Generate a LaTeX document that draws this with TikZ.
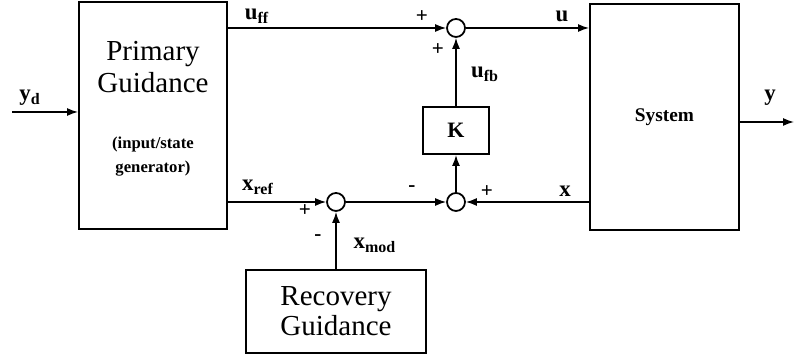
\documentclass[tikz,border=0pt]{standalone}
\usepackage{fontspec}
\setmainfont{Liberation Serif}
\usetikzlibrary{arrows.meta}

\newcommand{\smallbf}{\fontsize{9.5}{13}\selectfont\bfseries}

\begin{document}
\begin{tikzpicture}[
  block/.style={draw, line width=1.1pt, inner sep=0pt, align=center},
  sumjn/.style={draw, circle, line width=1pt, minimum size=0.36cm, inner sep=0pt},
  sig/.style={line width=0.8pt, -{Latex[length=2.2mm,width=1.6mm]}},
  lbl/.style={font=\fontsize{13}{15}\selectfont\bfseries},
  sgn/.style={font=\fontsize{12}{14}\selectfont\bfseries}
]
\useasboundingbox (0,0) rectangle (15.9,7.2);

% Blocks
\node[block, minimum width=2.96cm, minimum height=4.54cm,
  font=\fontsize{16.5}{18}\selectfont] (pg) at (3.06,4.89)
  {Primary\\Guidance\\[0.5cm]
   \smallbf (input/state\\[-0.15cm]\smallbf generator)\\[-0.3cm]};
\node[block, minimum width=2.98cm, minimum height=4.52cm,
  font=\fontsize{11}{13}\selectfont\bfseries] (sys) at (13.29,4.86) {System};
\node[block, minimum width=1.32cm, minimum height=0.94cm,
  font=\fontsize{12.5}{14}\selectfont\bfseries] (k) at (9.12,4.59) {K};
\node[block, minimum width=3.6cm, minimum height=1.66cm,
  font=\fontsize{16.5}{17}\selectfont] (rg) at (6.72,0.97) {Recovery\\Guidance};

% Summing junctions
\node[sumjn] (s1) at (9.12,6.64) {};
\node[sumjn] (s2) at (6.72,3.16) {};
\node[sumjn] (s3) at (9.12,3.16) {};

% Free ends
\coordinate (ydin) at (0.24,4.96);
\coordinate (yout) at (15.88,4.76);

% Signals
\draw[sig] (ydin) -- (ydin -| pg.west);
\draw[sig] (s1 -| pg.east) -- (s1);
\draw[sig] (s1) -- (s1 -| sys.west);
\draw[sig] (yout -| sys.east) -- (yout);
\draw[sig] (s2 -| pg.east) -- (s2);
\draw[sig] (s2) -- (s3);
\draw[sig] (s3 -| sys.west) -- (s3);
\draw[sig] (s3) -- (k);
\draw[sig] (k) -- (s1);
\draw[sig] (rg) -- (s2);

% Labels
\node[lbl] (lyd) at (0.6,5.24) {y\textsubscript{d}};
\node[lbl] (luff) at (5.14,6.88) {u\textsubscript{ff}};
\node[lbl] (lu) at (11.24,6.88) {u};
\node[lbl] (lufb) at (9.7,5.72) {u\textsubscript{fb}};
\node[lbl] (ly) at (15.4,5.24) {y};
\node[lbl] (lxref) at (5.16,3.46) {x\textsubscript{ref}};
\node[lbl] (lxmod) at (7.5,2.3) {x\textsubscript{mod}};
\node[lbl] (lx) at (11.3,3.38) {x};

% Signs
\node[sgn] at (8.44,6.86) {+};
\node[sgn] at (8.76,6.2) {+};
\node[sgn] at (6.1,2.98) {+};
\node[sgn] at (6.36,2.44) {-};
\node[sgn] at (8.24,3.42) {-};
\node[sgn] at (9.74,3.36) {+};

\end{tikzpicture}
\end{document}
